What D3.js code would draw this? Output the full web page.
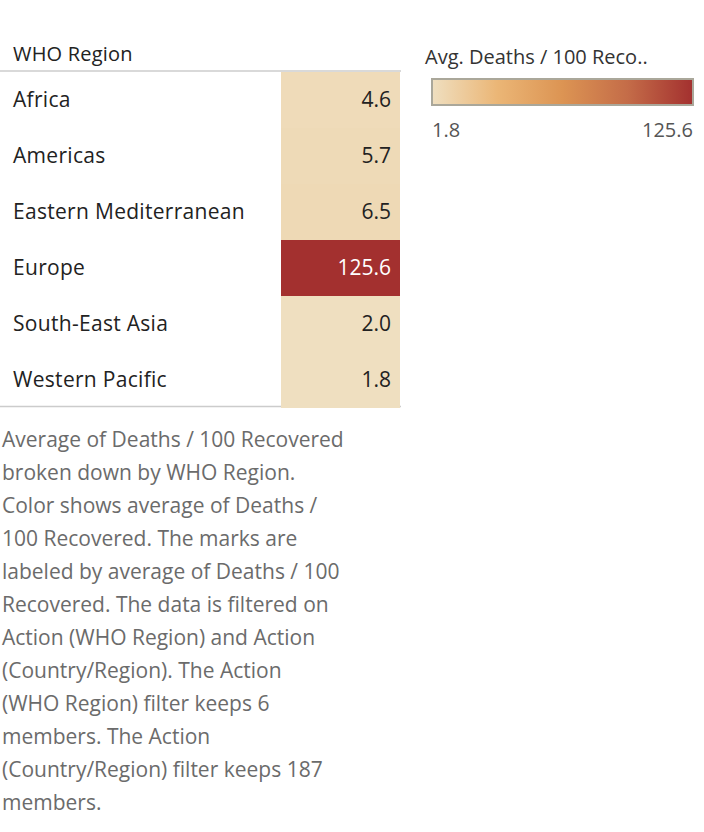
<!DOCTYPE html>
<html><head><meta charset="utf-8">
<script src="https://cdn.jsdelivr.net/npm/d3@7"></script>
<style>body{margin:0;background:#fff;font-family:"Open Sans",Lato,sans-serif;}</style>
</head><body><div id="chart"></div>
<script>
const regions = ["Africa", "Americas", "Eastern Mediterranean", "Europe", "South-East Asia", "Western Pacific"];
const values = [4.6, 5.7, 6.5, 125.6, 2.0, 1.8];
const footnote = [
  "Average of Deaths / 100 Recovered",
  "broken down by WHO Region.",
  "Color shows average of Deaths /",
  "100 Recovered.  The marks are",
  "labeled by average of Deaths / 100",
  "Recovered. The data is filtered on",
  "Action (WHO Region) and Action",
  "(Country/Region). The Action",
  "(WHO Region) filter keeps 6",
  "members. The Action",
  "(Country/Region) filter keeps 187",
  "members."
];

const svg = d3.select("#chart").append("svg").attr("width", 704).attr("height", 832);

const stops = ["#efdfc0", "#ebb676", "#dc9453", "#c46c48", "#a3302f"];
const minV = d3.min(values), maxV = d3.max(values);
const color = d3.scaleLinear()
    .domain(d3.range(stops.length).map(i => minV + (maxV - minV) * i / (stops.length - 1)))
    .range(stops).interpolate(d3.interpolateRgb);

const y = d3.scaleBand().domain(regions).range([72, 408]).padding(0);

svg.append("text").attr("x", 13).attr("y", 61).attr("font-size", 20).attr("fill", "#222").attr("letter-spacing", 0.2).text("WHO Region");
svg.append("line").attr("x1", 0).attr("x2", 401).attr("y1", 71).attr("y2", 71).attr("stroke", "#ccc").attr("stroke-width", 1.5);
svg.append("line").attr("x1", 0).attr("x2", 401).attr("y1", 406.5).attr("y2", 406.5).attr("stroke", "#ccc").attr("stroke-width", 1.5);

const rows = svg.selectAll(".row").data(regions).enter().append("g").attr("class", "row");
rows.append("rect")
    .attr("x", 281).attr("width", 119)
    .attr("y", d => y(d)).attr("height", 56)
    .attr("fill", (d, i) => color(values[i]));
rows.append("text").attr("x", 13).attr("y", d => y(d) + y.bandwidth() / 2 + 7)
    .attr("font-size", 21).attr("letter-spacing", 0.3).attr("fill", "#222").text(d => d);
rows.append("text").attr("x", 391).attr("y", d => y(d) + y.bandwidth() / 2 + 7)
    .attr("text-anchor", "end").attr("font-size", 21)
    .attr("fill", (d, i) => values[i] > 60 ? "#fff" : "#222")
    .text((d, i) => values[i].toFixed(1));

// legend
const defs = svg.append("defs");
const grad = defs.append("linearGradient").attr("id", "lg");
stops.forEach((c, i) => grad.append("stop").attr("offset", i / (stops.length - 1)).attr("stop-color", c));
svg.append("text").attr("x", 425).attr("y", 64).attr("font-size", 20).attr("font-weight", 500).attr("fill", "#333").text("Avg. Deaths / 100 Reco..");
const lx = d3.scaleLinear().domain([minV, maxV]).range([432, 693]);
svg.append("rect").attr("x", lx(minV)).attr("y", 79).attr("width", lx(maxV) - lx(minV)).attr("height", 26)
    .attr("fill", "url(#lg)").attr("stroke", "#aaa79a").attr("stroke-width", 2);
svg.append("text").attr("x", lx(minV)).attr("y", 137).attr("font-size", 20).attr("fill", "#555").text(minV.toFixed(1));
svg.append("text").attr("x", lx(maxV)).attr("y", 137).attr("text-anchor", "end").attr("font-size", 20).attr("fill", "#555").text(maxV.toFixed(1));

// footnote
svg.append("g").selectAll("text").data(footnote).enter().append("text")
    .attr("x", 2).attr("y", (d, i) => 447 + i * 33)
    .attr("font-size", 21).attr("fill", "#6b6b6b").text(d => d);
</script></body></html>
